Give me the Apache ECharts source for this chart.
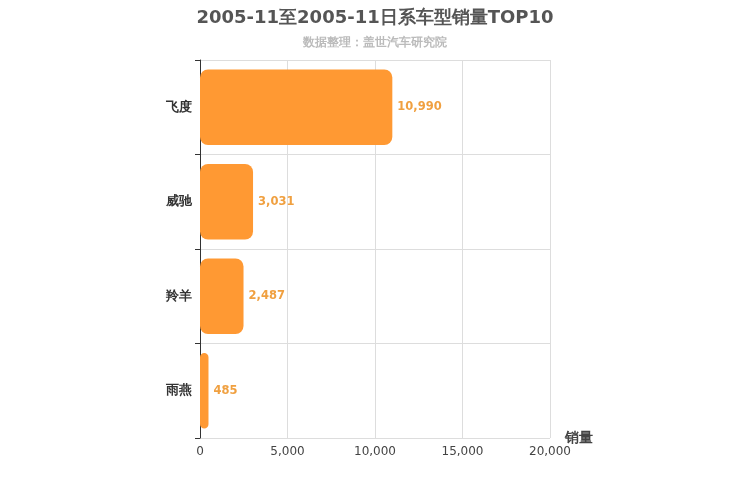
<!DOCTYPE html>
<html><head><meta charset="utf-8">
<script src="https://cdn.jsdelivr.net/npm/echarts@6/dist/echarts.min.js"></script>
<style>html,body{margin:0;padding:0}#c{width:750px;height:500px}</style>
</head><body><div id="c"></div>
<script>
const categories = ['飞度','威驰','羚羊','雨燕'];
const values = [10990, 3031, 2487, 485];
const xTicks = [0, 5000, 10000, 15000, 20000];
const chart = echarts.init(document.getElementById('c'));
chart.setOption({
  textStyle:{fontFamily:'DejaVu Sans'},
  title:{text:'2005-11至2005-11日系车型销量TOP10',subtext:'数据整理：盖世汽车研究院',left:'center',top:4,
    textStyle:{fontSize:18,fontWeight:'bold',color:'#555'},subtextStyle:{fontSize:12,fontWeight:'bold',color:'#bbb'},itemGap:10},
  grid:{left:200,right:200,top:60,bottom:62},
  xAxis:{type:'value',min:0,max:20000,interval:5000,name:'销量',nameLocation:'end',nameGap:15,
    nameTextStyle:{fontSize:14,fontWeight:'bold',color:'#444'},
    axisLine:{show:false},axisTick:{show:false},
    axisLabel:{color:'#444',formatter:v=>v.toLocaleString('en-US')},
    splitLine:{lineStyle:{color:'#ddd'}}},
  yAxis:{type:'category',data:categories,inverse:true,
    axisLine:{show:true,lineStyle:{color:'#333'}},axisTick:{show:true},
    axisLabel:{fontSize:13,fontWeight:'bold',color:'#333'},
    splitLine:{show:true,lineStyle:{color:'#ddd'}}},
  series:[{type:'bar',data:values,barWidth:'80%',
    itemStyle:{color:'#ff9933',borderRadius:8},
    label:{show:true,position:'right',color:'#f0a040',fontWeight:'bold',fontSize:11.5,
      formatter:p=>p.value.toLocaleString('en-US')}}]
});
</script></body></html>
